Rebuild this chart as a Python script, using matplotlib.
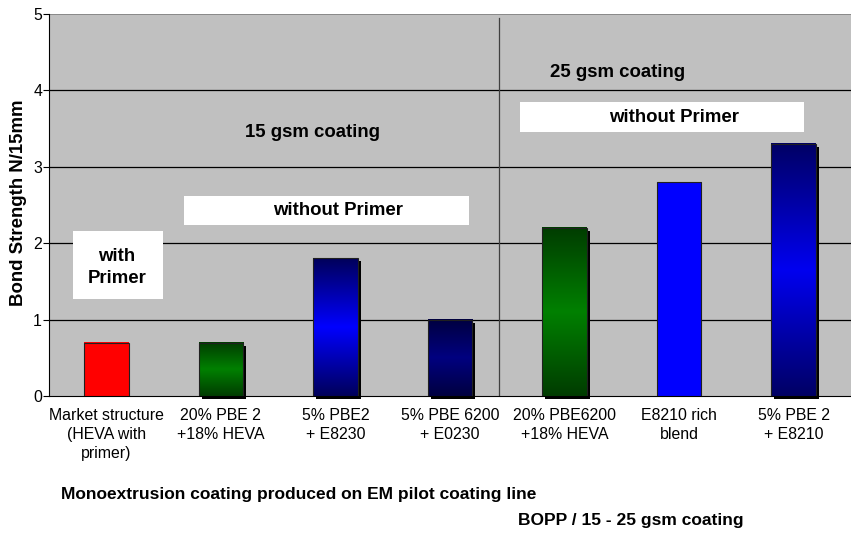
import numpy as np
import matplotlib
matplotlib.use("Agg")
import matplotlib.pyplot as plt
import matplotlib.transforms as mtransforms
from matplotlib.colors import LinearSegmentedColormap
from matplotlib.patches import Rectangle

plt.rcParams['font.family'] = ['Liberation Sans', 'DejaVu Sans']

categories = [
    "Market structure\n(HEVA with\nprimer)",
    "20% PBE 2\n+18% HEVA",
    "5% PBE2\n+ E8230",
    "5% PBE 6200\n+ E0230",
    "20% PBE6200\n+18% HEVA",
    "E8210 rich\nblend",
    "5% PBE 2\n+ E8210",
]
bond_strength = [0.7, 0.7, 1.8, 1.0, 2.2, 2.8, 3.3]

# fill style per bar: (gradient end colour, gradient centre colour, has shadow)
fills = [
    ("#ff0000", "#ff0000", False),
    ("#003c00", "#008000", True),
    ("#00005a", "#0000ff", True),
    ("#000040", "#000080", True),
    ("#003c00", "#008000", True),
    ("#0000ff", "#0000ff", False),
    ("#000064", "#0000f0", True),
]

fig = plt.figure(figsize=(8.51, 5.33), dpi=100)
ax = fig.add_axes([49 / 851, 1 - 396 / 533, 1 - 49 / 851, (396 - 14) / 533])
ax.set_facecolor("#c0c0c0")

x = np.arange(len(categories))

# grid lines
for yv in [1, 2, 3, 4]:
    ax.axhline(yv, color="black", lw=0.9, zorder=1)
ax.axhline(5, color="#808080", lw=1.2, zorder=1)

# divider between the 15 gsm and 25 gsm groups
ax.plot([3.43, 3.43], [0, 4.95], color="#404040", lw=0.9, zorder=1)

bar_w = 0.39
shadow_tr = mtransforms.offset_copy(ax.transData, fig=fig, x=3, y=-3, units="dots")
bars = ax.bar(x, bond_strength, width=bar_w, facecolor="none",
              edgecolor="#202020", lw=0.8, zorder=4)
for b, (c_end, c_mid, shadow) in zip(bars, fills):
    x0, w, h = b.get_x(), b.get_width(), b.get_height()
    if shadow:
        ax.add_patch(Rectangle((x0, 0), w, h, facecolor="black", edgecolor="none",
                               transform=shadow_tr, zorder=2, clip_on=False))
    cmap = LinearSegmentedColormap.from_list("g", [c_end, c_mid, c_end])
    grad = np.linspace(0, 1, 256).reshape(-1, 1)
    ax.imshow(grad, cmap=cmap, aspect="auto", extent=(x0, x0 + w, 0, h),
              origin="lower", zorder=3, interpolation="bilinear")
ax.set_xlim(-0.5, len(categories) - 0.5)
ax.set_ylim(0, 5)

label_kw = dict(ha="center", va="center", fontsize=13.4, fontweight="bold", zorder=6)

# annotation boxes
ax.add_patch(Rectangle((-0.29, 1.27), 0.785, 0.89, facecolor="white",
                       edgecolor="none", zorder=5))
ax.text(0.093, 1.68, "with\nPrimer", linespacing=1.35, **label_kw)
ax.add_patch(Rectangle((0.678, 2.238), 2.487, 0.38, facecolor="white",
                       edgecolor="none", zorder=5))
ax.text(2.02, 2.43, "without Primer", **label_kw)
ax.add_patch(Rectangle((3.61, 3.455), 2.478, 0.393, facecolor="white",
                       edgecolor="none", zorder=5))
ax.text(4.96, 3.65, "without Primer", **label_kw)
ax.text(1.80, 3.45, "15 gsm coating", **label_kw)
ax.text(4.46, 4.24, "25 gsm coating", **label_kw)

ax.set_xticks(x)
ax.set_xticklabels(categories, fontsize=11.4, linespacing=1.33)
ax.tick_params(axis="x", length=0, pad=9)
ax.set_yticks([0, 1, 2, 3, 4, 5])
ax.tick_params(axis="y", labelsize=11.4, length=4, width=0.8, pad=1)
ax.set_ylabel("Bond Strength N/15mm", fontsize=13.4, fontweight="bold")
ax.yaxis.set_label_coords(-0.028, (396 - 203) / 382)

for s in ["top", "right"]:
    ax.spines[s].set_visible(False)
ax.spines["left"].set_color("black")
ax.spines["bottom"].set_color("black")

fig.text(61 / 851, 1 - 495 / 533, "Monoextrusion coating produced on EM pilot coating line",
         fontsize=12.5, fontweight="bold", ha="left", va="center")
fig.text(518 / 851, 1 - 521 / 533, "BOPP / 15 - 25 gsm coating",
         fontsize=12.5, fontweight="bold", ha="left", va="center")

fig.savefig("out.png", dpi=100)
